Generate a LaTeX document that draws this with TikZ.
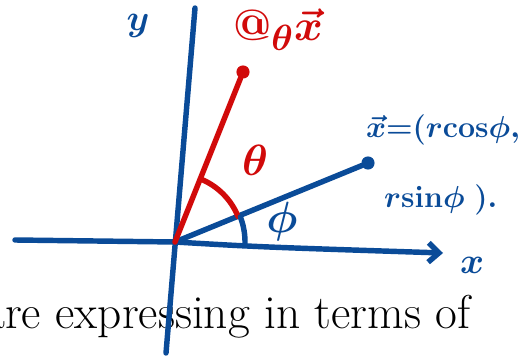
\documentclass[tikz,border=0pt]{standalone}
\usepackage{amsmath,amssymb}
\usepackage{xcolor}
\usepackage{tikz}
\usetikzlibrary{arrows.meta,positioning,calc}
\definecolor{PenBlue}{HTML}{0A4B98}
\definecolor{PenRed}{HTML}{D10A0A}

\begin{document}
\begin{tikzpicture}[
  x=0.02cm,y=0.02cm,
  bluepen/.style={PenBlue,line width=3.1pt,line cap=round,line join=round},
  redpen/.style={PenRed,line width=3.1pt,line cap=round,line join=round},
  tipdot/.style={circle,inner sep=0pt,minimum size=7.5pt},
  hand/.style={font=\boldmath\fontsize{22}{26}\selectfont,inner sep=1pt},
  bighand/.style={font=\boldmath\fontsize{30}{34}\selectfont,inner sep=1pt},
  smallhand/.style={font=\boldmath\fontsize{16}{19}\selectfont,inner sep=1pt}
]
\useasboundingbox (0,0) rectangle (523,-357);
\node[anchor=base west,font=\fontsize{27}{31}\selectfont,inner sep=0pt] (caption) at (-17,-328) {are expressing in terms of};
\coordinate (O) at (175,-242);
\coordinate (yTop) at (195,-8);
\coordinate (yBot) at (166,-353);
\coordinate (xLeft) at (15,-240);
\coordinate (xRight) at (443,-253);
\node[tipdot,fill=PenBlue] (xTip) at (368,-163) {};
\node[tipdot,fill=PenRed] (rTip) at (243,-72) {};
\draw[bluepen] (yBot) -- (yTop);
\draw[bluepen,-{Straight Barb[length=6pt,width=11pt]}] (xLeft) -- (O) .. controls (260,-247) .. (xRight);
\draw[bluepen] (O) -- (xTip);
\draw[redpen] (O) -- (rTip);
\draw[redpen] (O) ++(68:68) arc[start angle=68,end angle=22,radius=68];
\draw[bluepen] (O) ++(21:70) arc[start angle=21,end angle=-2,radius=70];
\node[bighand,text=PenRed] (thetaLbl) at (255,-160) {$\theta$};
\node[bighand,text=PenBlue] (phiLbl) at (282,-222) {$\phi$};
\node[bighand,text=PenRed] (rotLbl) at (278,-30) {$@_{\theta}\vec{x}$};
\node[hand,text=PenBlue] (yLbl) at (138,-26) {$y$};
\node[hand,text=PenBlue] (xLbl) at (472,-265) {$x$};
\node[smallhand,text=PenBlue,anchor=west] (coordLbl) at (364,-130) {$\vec{x}{=}(r\mathrm{cos}\phi,$};
\node[smallhand,text=PenBlue,anchor=west] (coordLbl2) at (382,-200) {$r\mathrm{sin}\phi\;).$};
\end{tikzpicture}
\end{document}
